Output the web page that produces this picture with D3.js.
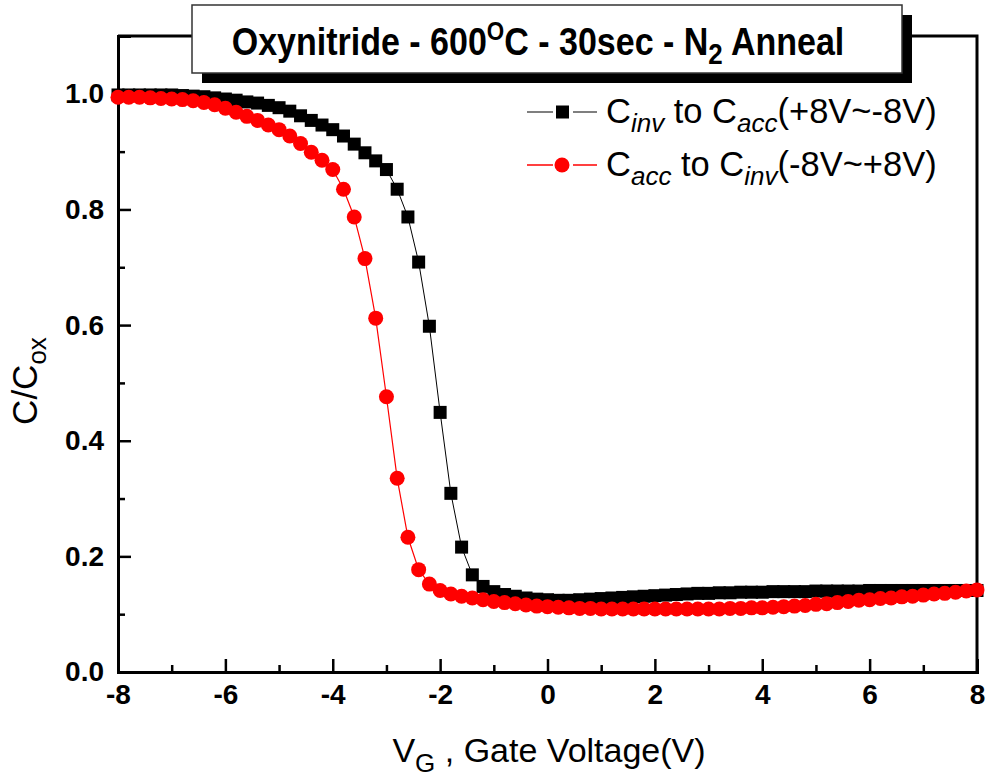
<!DOCTYPE html>
<html>
<head>
<meta charset="utf-8">
<script src="https://cdn.jsdelivr.net/npm/d3@7"></script>
<style>
  body { margin: 0; background: #fff; }
  svg { display: block; }
</style>
</head>
<body>
<svg id="chart" width="991" height="780"></svg>
<script>
// gate voltage sweep points (V)
var voltages = [-8.0, -7.8, -7.6, -7.4, -7.2, -7.0, -6.8, -6.6, -6.4, -6.2,
  -6.0, -5.8, -5.6, -5.4, -5.2, -5.0, -4.8, -4.6, -4.4, -4.2,
  -4.0, -3.8, -3.6, -3.4, -3.2, -3.0, -2.8, -2.6, -2.4, -2.2,
  -2.0, -1.8, -1.6, -1.4, -1.2, -1.0, -0.8, -0.6, -0.4, -0.2,
  0.0, 0.2, 0.4, 0.6, 0.8, 1.0, 1.2, 1.4, 1.6, 1.8,
  2.0, 2.2, 2.4, 2.6, 2.8, 3.0, 3.2, 3.4, 3.6, 3.8,
  4.0, 4.2, 4.4, 4.6, 4.8, 5.0, 5.2, 5.4, 5.6, 5.8,
  6.0, 6.2, 6.4, 6.6, 6.8, 7.0, 7.2, 7.4, 7.6, 7.8, 8.0]

// C/Cox, Cinv -> Cacc sweep (+8V ~ -8V)
var invToAcc = [0.998, 0.998, 0.998, 0.998, 0.998, 0.998, 0.997, 0.996, 0.995, 0.993,
  0.991, 0.989, 0.986, 0.984, 0.980, 0.976, 0.970, 0.962, 0.954, 0.946,
  0.938, 0.927, 0.913, 0.898, 0.884, 0.869, 0.835, 0.787, 0.709, 0.598,
  0.449, 0.309, 0.216, 0.168, 0.148, 0.139, 0.134, 0.131, 0.128, 0.126,
  0.125, 0.124, 0.124, 0.125, 0.126, 0.127, 0.128, 0.129, 0.130, 0.131,
  0.132, 0.133, 0.134, 0.135, 0.136, 0.136, 0.137, 0.137, 0.138, 0.138,
  0.138, 0.139, 0.139, 0.139, 0.139, 0.140, 0.140, 0.140, 0.140, 0.140,
  0.141, 0.141, 0.141, 0.141, 0.141, 0.141, 0.141, 0.141, 0.141, 0.141, 0.141]

// C/Cox, Cacc -> Cinv sweep (-8V ~ +8V)
var accToInv = [0.994, 0.994, 0.994, 0.993, 0.992, 0.991, 0.990, 0.988, 0.985, 0.981,
  0.975, 0.968, 0.961, 0.954, 0.946, 0.938, 0.927, 0.914, 0.899, 0.885,
  0.869, 0.835, 0.787, 0.715, 0.612, 0.476, 0.335, 0.233, 0.177, 0.152,
  0.141, 0.135, 0.131, 0.128, 0.125, 0.122, 0.120, 0.118, 0.116, 0.114,
  0.113, 0.112, 0.111, 0.110, 0.110, 0.109, 0.109, 0.109, 0.109, 0.109,
  0.109, 0.109, 0.109, 0.109, 0.109, 0.109, 0.109, 0.110, 0.110, 0.111,
  0.111, 0.112, 0.113, 0.114, 0.115, 0.117, 0.118, 0.120, 0.122, 0.124,
  0.125, 0.127, 0.128, 0.130, 0.131, 0.133, 0.135, 0.136, 0.138, 0.140, 0.142]

var xTicks = [-8, -6, -4, -2, 0, 2, 4, 6, 8]
var xMinorTicks = [-7, -5, -3, -1, 1, 3, 5, 7]
var yTicks = [0.0, 0.2, 0.4, 0.6, 0.8, 1.0]
var yMinorTicks = [0.1, 0.3, 0.5, 0.7, 0.9]

const LEFT = 118
const RIGHT = 977
const TOP = 36
const BOTTOM = 672
const FONT = 'Liberation Sans, Arial, sans-serif'

let svg = d3.select('#chart')
svg.append('rect').attr('width', 991).attr('height', 780).attr('fill', '#fff')

let x = d3.scaleLinear().domain([-8, 8]).range([LEFT, RIGHT])
let y = d3.scaleLinear().domain([0, 1.1]).range([BOTTOM, TOP])

// frame (top + right)
svg.append('path')
  .attr('d', `M${LEFT},${TOP}H${RIGHT}V${BOTTOM}`)
  .attr('fill', 'none')
  .attr('stroke', '#000')
  .attr('stroke-width', 3)

// x axis, ticks pointing inward, plain hyphen minus like the original
let xAxis = svg.append('g')
  .attr('transform', `translate(0, ${BOTTOM})`)
  .call(d3.axisBottom(x).tickValues(xTicks).tickSize(-13).tickFormat(d => String(d)).tickPadding(12))
xAxis.selectAll('.domain').attr('stroke-width', 3)
xAxis.selectAll('line').attr('stroke-width', 2.5)
xAxis.selectAll('text')
  .attr('font-family', FONT)
  .attr('font-weight', 'bold')
  .attr('font-size', 28)
  .attr('fill', '#000')
  .attr('dy', '0.71em')

svg.append('g')
  .attr('transform', `translate(0, ${BOTTOM})`)
  .call(d3.axisBottom(x).tickValues(xMinorTicks).tickSize(-7).tickFormat(''))
  .call(g => g.select('.domain').remove())
  .selectAll('line').attr('stroke-width', 2.5)

let yAxis = svg.append('g')
  .attr('transform', `translate(${LEFT}, 0)`)
  .call(d3.axisLeft(y).tickValues(yTicks).tickSize(-13).tickFormat(d3.format('.1f')).tickPadding(14))
yAxis.selectAll('.domain').attr('stroke-width', 3)
yAxis.selectAll('line').attr('stroke-width', 2.5)
yAxis.selectAll('text')
  .attr('font-family', FONT)
  .attr('font-weight', 'bold')
  .attr('font-size', 28)
  .attr('fill', '#000')

svg.append('g')
  .attr('transform', `translate(${LEFT}, 0)`)
  .call(d3.axisLeft(y).tickValues(yMinorTicks).tickSize(-7).tickFormat(''))
  .call(g => g.select('.domain').remove())
  .selectAll('line').attr('stroke-width', 2.5)

// axis titles
let xLabel = svg.append('text')
  .attr('x', 549).attr('y', 762)
  .attr('text-anchor', 'middle')
  .attr('font-family', FONT)
  .attr('font-size', 34)
xLabel.append('tspan').text('V')
xLabel.append('tspan').text('G').attr('font-size', 26).attr('dy', 10)
xLabel.append('tspan').text(' , Gate Voltage(V)').attr('dy', -10)

let yLabel = svg.append('text')
  .attr('transform', `translate(37, 381) rotate(-90)`)
  .attr('text-anchor', 'middle')
  .attr('font-family', FONT)
  .attr('font-size', 35)
yLabel.append('tspan').text('C/C')
yLabel.append('tspan').text('ox').attr('font-size', 26).attr('dy', 9)

// series
let pts = (vals) => voltages.map((v, i) => ({v: v, c: vals[i]}))
let line = d3.line().x(d => x(d.v)).y(d => y(d.c))

svg.append('path')
  .datum(pts(invToAcc))
  .attr('fill', 'none')
  .attr('stroke', '#000')
  .attr('stroke-width', 1)
  .attr('d', line)

svg.append('g').selectAll('rect')
  .data(pts(invToAcc))
  .join('rect')
  .attr('x', d => x(d.v) - 6.5)
  .attr('y', d => y(d.c) - 6.5)
  .attr('width', 13).attr('height', 13)
  .attr('fill', '#000')

svg.append('path')
  .datum(pts(accToInv))
  .attr('fill', 'none')
  .attr('stroke', '#ff0000')
  .attr('stroke-width', 1.2)
  .attr('d', line)

svg.append('g').selectAll('circle')
  .data(pts(accToInv))
  .join('circle')
  .attr('cx', d => x(d.v))
  .attr('cy', d => y(d.c))
  .attr('r', 7.5)
  .attr('fill', '#ff0000')

// title box with drop shadow
svg.append('rect')
  .attr('x', 202).attr('y', 15).attr('width', 710).attr('height', 68)
  .attr('fill', '#000')
svg.append('rect')
  .attr('x', 192).attr('y', 5).attr('width', 710).attr('height', 68)
  .attr('fill', '#fff')
  .attr('stroke', '#333')
  .attr('stroke-width', 1.5)

// condensed bold title: taller glyphs squeezed horizontally
let title = svg.append('text')
  .attr('transform', 'translate(538, 55) scale(0.895, 1)')
  .attr('text-anchor', 'middle')
  .attr('font-family', FONT)
  .attr('font-weight', 'bold')
  .attr('font-size', 38)
title.append('tspan').text('Oxynitride - 600')
title.append('tspan').text('O').attr('font-size', 25).attr('dy', -15)
title.append('tspan').text('C - 30sec - N').attr('dy', 15)
title.append('tspan').text('2').attr('font-size', 29).attr('dy', 9)
title.append('tspan').text(' Anneal').attr('dy', -9)

// legend
var legendRows = [
  {sub1: 'inv', sub2: 'acc', range: '(+8V~-8V)', color: '#000', lineColor: '#555', shape: 'square', y: 112},
  {sub1: 'acc', sub2: 'inv', range: '(-8V~+8V)', color: '#ff0000', lineColor: '#ff0000', shape: 'circle', y: 165}
]

legendRows.forEach(function (row) {
  let g = svg.append('g')
  g.append('line')
    .attr('x1', 527).attr('x2', 597)
    .attr('y1', row.y).attr('y2', row.y)
    .attr('stroke', row.lineColor)
    .attr('stroke-width', 1.5)
  // gap around the marker like the original
  g.append('rect')
    .attr('x', 553).attr('y', row.y - 3).attr('width', 20).attr('height', 6)
    .attr('fill', '#fff')
  if (row.shape === 'square') {
    g.append('rect')
      .attr('x', 556).attr('y', row.y - 6.5).attr('width', 13).attr('height', 13)
      .attr('fill', row.color)
  } else {
    g.append('circle')
      .attr('cx', 562).attr('cy', row.y).attr('r', 7.5)
      .attr('fill', row.color)
  }
  let t = g.append('text')
    .attr('x', 606).attr('y', row.y + 11)
    .attr('font-family', FONT)
    .attr('font-size', 34.5)
  t.append('tspan').text('C')
  t.append('tspan').text(row.sub1).attr('font-style', 'italic').attr('font-size', 26).attr('dy', 9)
  t.append('tspan').text(' to C').attr('dy', -9)
  t.append('tspan').text(row.sub2).attr('font-style', 'italic').attr('font-size', 26).attr('dy', 9)
  t.append('tspan').text(row.range).attr('dy', -9)
})
</script>
</body>
</html>
